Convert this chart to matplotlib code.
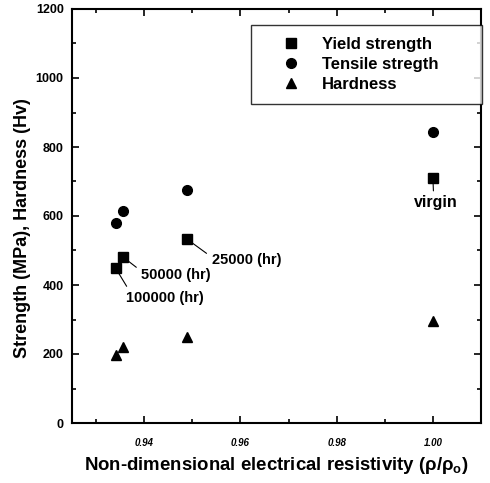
import numpy as np
import matplotlib.pyplot as plt
from matplotlib.ticker import MultipleLocator

plt.rcParams['font.family'] = ['Liberation Sans', 'DejaVu Sans']
plt.rcParams['font.weight'] = 'bold'
plt.rcParams['mathtext.fontset'] = 'custom'
plt.rcParams['mathtext.rm'] = 'Liberation Sans:bold'
plt.rcParams['mathtext.default'] = 'rm'

# data
resistivity = [0.9341, 0.9357, 0.9488, 1.000]
yield_strength = [448, 480, 534, 711]
tensile_strength = [580, 615, 675, 844]
hardness = [197, 221, 248, 296]
point_labels = ['100000 (hr)', '50000 (hr)', '25000 (hr)', 'virgin']

fig = plt.figure(figsize=(4.9, 4.83), dpi=100)
ax = fig.add_axes([72 / 490, 60 / 483, 409 / 490, 414 / 483])

ax.plot(resistivity, yield_strength, 's', color='black', ms=6.5, label='Yield strength')
ax.plot(resistivity, tensile_strength, 'o', color='black', ms=7, label='Tensile stregth')
ax.plot(resistivity, hardness, '^', color='black', ms=7.5, label='Hardness')

# annotations with leader lines
offsets = [(0.0021, -87), (0.0037, -52), (0.0052, -61), (0.0006, -72)]
rel = [(0.05, 1.0), (0.0, 0.8), (0.0, 0.7), (0.45, 1.0)]
for xv, yv, lab, (dx, dy), rp in zip(resistivity, yield_strength, point_labels, offsets, rel):
    if lab == 'virgin':
        ax.annotate(lab, xy=(xv, yv), xytext=(xv + dx, yv + dy), ha='center', va='center',
                    fontsize=11.5, fontweight='bold',
                    arrowprops=dict(arrowstyle='-', color='black', lw=0.8, shrinkA=1, shrinkB=0,
                                    relpos=rp))
    else:
        ax.annotate(lab, xy=(xv, yv), xytext=(xv + dx, yv + dy), ha='left', va='center',
                    fontsize=10.5, fontweight='bold',
                    arrowprops=dict(arrowstyle='-', color='black', lw=0.8, shrinkA=2, shrinkB=4,
                                    relpos=rp))

ax.set_xlim(0.925, 1.01)
ax.set_ylim(0, 1200)
ax.xaxis.set_major_locator(MultipleLocator(0.02))
ax.xaxis.set_minor_locator(MultipleLocator(0.01))
ax.yaxis.set_major_locator(MultipleLocator(200))
ax.yaxis.set_minor_locator(MultipleLocator(100))
ax.tick_params(which='both', direction='in', top=True, right=True, width=1.2)
ax.tick_params(which='major', length=5)
ax.tick_params(which='minor', length=3)
ax.tick_params(axis='x', labelsize=7, pad=11)
ax.tick_params(axis='y', labelsize=9, pad=6)
ax.set_xticks([0.94, 0.96, 0.98, 1.00])
ax.set_xticklabels(['0.94', '0.96', '0.98', '1.00'])
for t in ax.get_xticklabels():
    t.set_fontstyle('italic')
    t.set_fontweight('bold')
for t in ax.get_yticklabels():
    t.set_fontweight('bold')
for s in ax.spines.values():
    s.set_linewidth(1.5)

ax.set_xlabel(r'Non-dimensional electrical resistivity (ρ/ρ$_o$)',
              fontsize=13.4, fontweight='bold', va='center')
ax.xaxis.set_label_coords(0.5, -(465 - 423) / 414)
ax.set_ylabel('Strength (MPa), Hardness (Hv)', fontsize=13, fontweight='bold')
ax.yaxis.set_label_coords((31 - 72) / 409, (423 - 228) / 414)

leg = ax.legend(loc='upper left', bbox_to_anchor=(0.4377, 0.9514, 0.5647, 0.01), mode='expand',
                frameon=True, fancybox=False, edgecolor='black', fontsize=12,
                handletextpad=0.1, borderpad=0.7, labelspacing=0.31, handlelength=3.45,
                borderaxespad=0)
leg.get_frame().set_linewidth(1.0)

fig.savefig('out.png', dpi=100)
